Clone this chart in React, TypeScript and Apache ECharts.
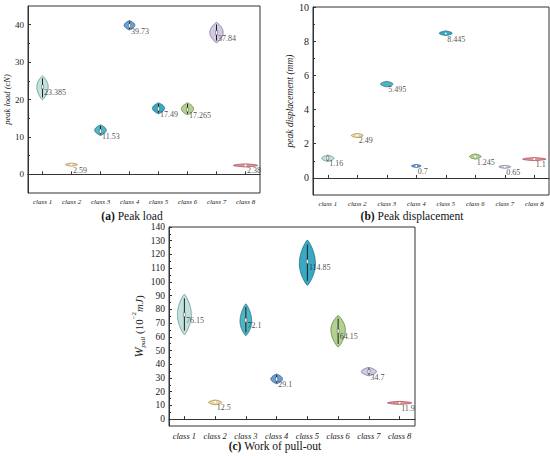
import React, { useEffect, useRef } from 'react';
import * as echarts from 'echarts';

const categories = ['class 1', 'class 2', 'class 3', 'class 4', 'class 5', 'class 6', 'class 7', 'class 8'];

// (a) Peak load (cN)
const loadMedian = [23.385, 2.59, 11.53, 39.73, 17.49, 17.265, 37.84, 2.38];
const loadMin = [19.9, 2.45, 10.4, 38.6, 16.2, 15.9, 35.2, 2.3];
const loadMax = [26.3, 2.72, 13.2, 41.1, 19.1, 19.1, 40.6, 2.46];
const loadWidth = [0.39, 0.4, 0.4, 0.37, 0.42, 0.42, 0.46, 0.83];
const loadPeak = [0.55, 0.5, 0.5, 0.5, 0.5, 0.5, 0.5, 0.5];
const loadTicks = [0, 10, 20, 30, 40];
const loadMinor = [5, 15, 25, 35];

// (b) Peak displacement (mm)
const dispMedian = [1.16, 2.49, 5.495, 0.7, 8.445, 1.245, 0.65, 1.1];
const dispMin = [0.96, 2.36, 5.33, 0.68, 8.33, 1.1, 0.61, 1.07];
const dispMax = [1.33, 2.6, 5.65, 0.72, 8.6, 1.4, 0.69, 1.13];
const dispWidth = [0.42, 0.4, 0.42, 0.32, 0.44, 0.39, 0.4, 0.79];
const dispPeak = [0.5, 0.5, 0.5, 0.5, 0.5, 0.5, 0.5, 0.5];
const dispTicks = [0, 2, 4, 6, 8, 10];
const dispMinor = [1, 3, 5, 7, 9];

// (c) Work of pull-out (10^-2 mJ)
const workMedian = [76.15, 12.5, 72.1, 29.1, 114.85, 64.15, 34.7, 11.9];
const workMin = [61.5, 10.5, 60.8, 25.8, 97.5, 52.5, 31.6, 10.8];
const workMax = [91, 13.9, 84, 32.8, 130.5, 75.5, 37.7, 12.9];
const workWidth = [0.45, 0.43, 0.38, 0.38, 0.52, 0.47, 0.49, 0.79];
const workPeak = [0.5, 0.5, 0.45, 0.5, 0.48, 0.55, 0.5, 0.5];
const workTicks = [0, 10, 20, 30, 40, 50, 60, 70, 80, 90, 100, 110, 120, 130, 140];
const workMinor = [5, 15, 25, 35, 45, 55, 65, 75, 85, 95, 105, 115, 125, 135];

const FILLS = ['#c2e2dd', '#eedb9e', '#4fb4c6', '#6b9fd3', '#39a9c3', '#b2d18f', '#d2cae5', '#e59aa1'];
const STROKES = ['#5e918b', '#9c8752', '#22707f', '#2f5f92', '#1b6c7f', '#5f8242', '#7a7198', '#a1464e'];
const FONT = '"Liberation Serif", "Times New Roman", Times, serif';

function renderViolin(params: any, api: any) {
  const cat = api.value(0);
  const med = api.value(1);
  const lo = api.value(2);
  const hi = api.value(3);
  const wf = api.value(4);
  const pk = api.value(5);
  const band = api.size([1, 0])[0];
  const halfW = (band * wf) / 2;
  const pMed = api.coord([cat, med]);
  const pTop = api.coord([cat, hi]);
  const pBot = api.coord([cat, lo]);
  const cx = pMed[0];
  let yTop = pTop[1];
  let yBot = pBot[1];
  if (yBot - yTop < 3) {
    const m = (yTop + yBot) / 2;
    yTop = m - 1.5;
    yBot = m + 1.5;
  }
  const N = 40;
  const right: number[][] = [];
  const left: number[][] = [];
  for (let i = 0; i <= N; i++) {
    const t = i / N;
    const y = yBot - t * (yBot - yTop);
    const s = t < pk ? Math.sin((Math.PI / 2) * (t / pk)) : Math.sin((Math.PI / 2) * ((1 - t) / (1 - pk)));
    const w = halfW * Math.pow(Math.max(s, 0), 0.8);
    right.push([cx + w, y]);
    left.unshift([cx - w, y]);
  }
  const idx = params.dataIndex;
  const children: any[] = [
    {
      type: 'polygon',
      shape: { points: right.concat(left) },
      style: { fill: FILLS[idx], stroke: STROKES[idx], lineWidth: 0.8 },
    },
  ];
  const h = yBot - yTop;
  if (h > 6) {
    children.push({
      type: 'line',
      shape: { x1: cx, y1: yTop + h * 0.1, x2: cx, y2: yBot - h * 0.1 },
      style: { stroke: '#1e1e1e', lineWidth: 1 },
    });
    children.push({
      type: 'rect',
      shape: { x: cx - 1, y: pMed[1] - 2, width: 2, height: 4 },
      style: { fill: '#ffffff', stroke: '#333', lineWidth: 0.4 },
    });
  } else {
    children.push({
      type: 'circle',
      shape: { cx, cy: pMed[1], r: 0.9 },
      style: { fill: '#ffffff' },
    });
  }
  return { type: 'group', children };
}

function buildData(med: number[], mn: number[], mx: number[], w: number[], pk: number[]) {
  return categories.map((_, i) => [i, med[i], mn[i], mx[i], w[i], pk[i]]);
}

export default function App() {
  const ref = useRef<HTMLDivElement>(null);
  useEffect(() => {
    if (!ref.current) return;
    const chart = echarts.init(ref.current, null, { renderer: 'svg' });
    const grids = [
      { left: 28, top: 6, width: 232, height: 187 },
      { left: 313, top: 7, width: 236, height: 188 },
      { left: 169, top: 227, width: 246, height: 199 },
    ];
    const panels = [
      {
        min: -5, max: 45, ticks: loadTicks, minor: loadMinor, tickFont: 9, catFont: 7,
        name: 'peak load (cN)', nameFont: 8.5, nameGap: 14,
        data: buildData(loadMedian, loadMin, loadMax, loadWidth, loadPeak), med: loadMedian,
      },
      {
        min: -1, max: 10, ticks: dispTicks, minor: dispMinor, tickFont: 10, catFont: 6.8,
        name: 'peak displacement (mm)', nameFont: 9.5, nameGap: 14,
        data: buildData(dispMedian, dispMin, dispMax, dispWidth, dispPeak), med: dispMedian,
      },
      {
        min: -5, max: 140, ticks: workTicks, minor: workMinor, tickFont: 9.5, catFont: 8.5,
        name: '{w|W}{s|pull} (10{p|−2}{i|mJ})', nameFont: 11, nameGap: 22,
        data: buildData(workMedian, workMin, workMax, workWidth, workPeak), med: workMedian,
      },
    ];
    const xAxis: any[] = [];
    const yAxis: any[] = [];
    const series: any[] = [];
    panels.forEach((p, i) => {
      xAxis.push({
        type: 'category',
        gridIndex: i,
        data: categories,
        boundaryGap: true,
        axisLine: { show: true, lineStyle: { color: '#333', width: 1 } },
        axisTick: { show: true, inside: true, alignWithLabel: true, length: 3, lineStyle: { color: '#333' } },
        axisLabel: { fontSize: p.catFont, fontFamily: FONT, fontStyle: 'italic', color: '#222', margin: 5 },
        splitLine: { show: false },
      });
      yAxis.push({
        type: 'value',
        gridIndex: i,
        min: p.min,
        max: p.max,
        axisLine: { show: true, lineStyle: { color: '#333', width: 1 } },
        axisTick: { show: true, inside: true, length: 3, customValues: p.ticks, lineStyle: { color: '#333' } },
        axisLabel: { fontSize: p.tickFont, fontFamily: FONT, color: '#222', margin: 4, customValues: p.ticks },
        splitLine: { show: false },
        name: p.name,
        nameLocation: 'middle',
        nameRotate: 90,
        nameGap: p.nameGap,
        nameTextStyle: {
          fontSize: p.nameFont,
          fontFamily: FONT,
          fontStyle: i < 2 ? 'italic' : 'normal',
          color: '#222',
          rich: {
            w: { fontSize: 12, fontStyle: 'italic', fontFamily: FONT, color: '#222', lineHeight: 16 },
            s: { fontSize: 7, fontStyle: 'italic', fontFamily: FONT, color: '#222', verticalAlign: 'bottom', lineHeight: 8 },
            p: { fontSize: 7, fontFamily: FONT, color: '#222', verticalAlign: 'top', lineHeight: 8 },
            i: { fontSize: 11, fontStyle: 'italic', fontFamily: FONT, color: '#222' },
          },
        },
      });
      yAxis.push({
        type: 'value',
        gridIndex: i,
        min: p.min,
        max: p.max,
        position: 'left',
        axisLine: { show: false },
        axisTick: { show: true, inside: true, length: 2, customValues: p.minor, lineStyle: { color: '#333' } },
        axisLabel: { show: false },
        splitLine: { show: false },
      });
      series.push({
        type: 'custom',
        xAxisIndex: i,
        yAxisIndex: i * 2,
        renderItem: renderViolin,
        data: p.data,
        encode: { x: 0, y: [1, 2, 3] },
        clip: false,
        z: 2,
      });
      series.push({
        type: 'scatter',
        xAxisIndex: i,
        yAxisIndex: i * 2,
        symbol: 'circle',
        symbolSize: 1,
        itemStyle: { color: 'rgba(0,0,0,0)' },
        data: p.med.map((v, k) => [k, v]),
        z: 3,
        silent: true,
        label: {
          show: true,
          position: [2, 6],
          align: 'left',
          verticalAlign: 'middle',
          fontSize: 8,
          fontFamily: FONT,
          color: '#222',
          formatter: (d: any) => String(p.med[d.dataIndex]),
        },
      });
    });
    const capRich = {
      b: { fontWeight: 'bold', fontSize: 11.5, fontFamily: FONT, fill: '#111' },
      n: { fontSize: 11.5, fontFamily: FONT, fill: '#111' },
    };
    const caption = (x: number, y: number, tag: string, txt: string) => ({
      type: 'text', x, y,
      style: { text: `{b|${tag}}{n| ${txt}}`, fontSize: 11.5, fontFamily: FONT, fill: '#111', align: 'center', verticalAlign: 'middle', rich: capRich },
    });
    chart.setOption({
      animation: false,
      backgroundColor: '#ffffff',
      grid: grids.map((g) => ({ ...g, show: true, borderColor: '#333', borderWidth: 1, backgroundColor: 'transparent', containLabel: false })),
      xAxis,
      yAxis,
      series,
      graphic: [
        caption(132, 216, '(a)', 'Peak load'),
        caption(412, 216, '(b)', 'Peak displacement'),
        caption(275, 446, '(c)', 'Work of pull-out'),
      ],
    });
    return () => chart.dispose();
  }, []);
  return <div ref={ref} style={{ position: 'absolute', left: 0, top: 0, width: 550, height: 456 }} />;
}
